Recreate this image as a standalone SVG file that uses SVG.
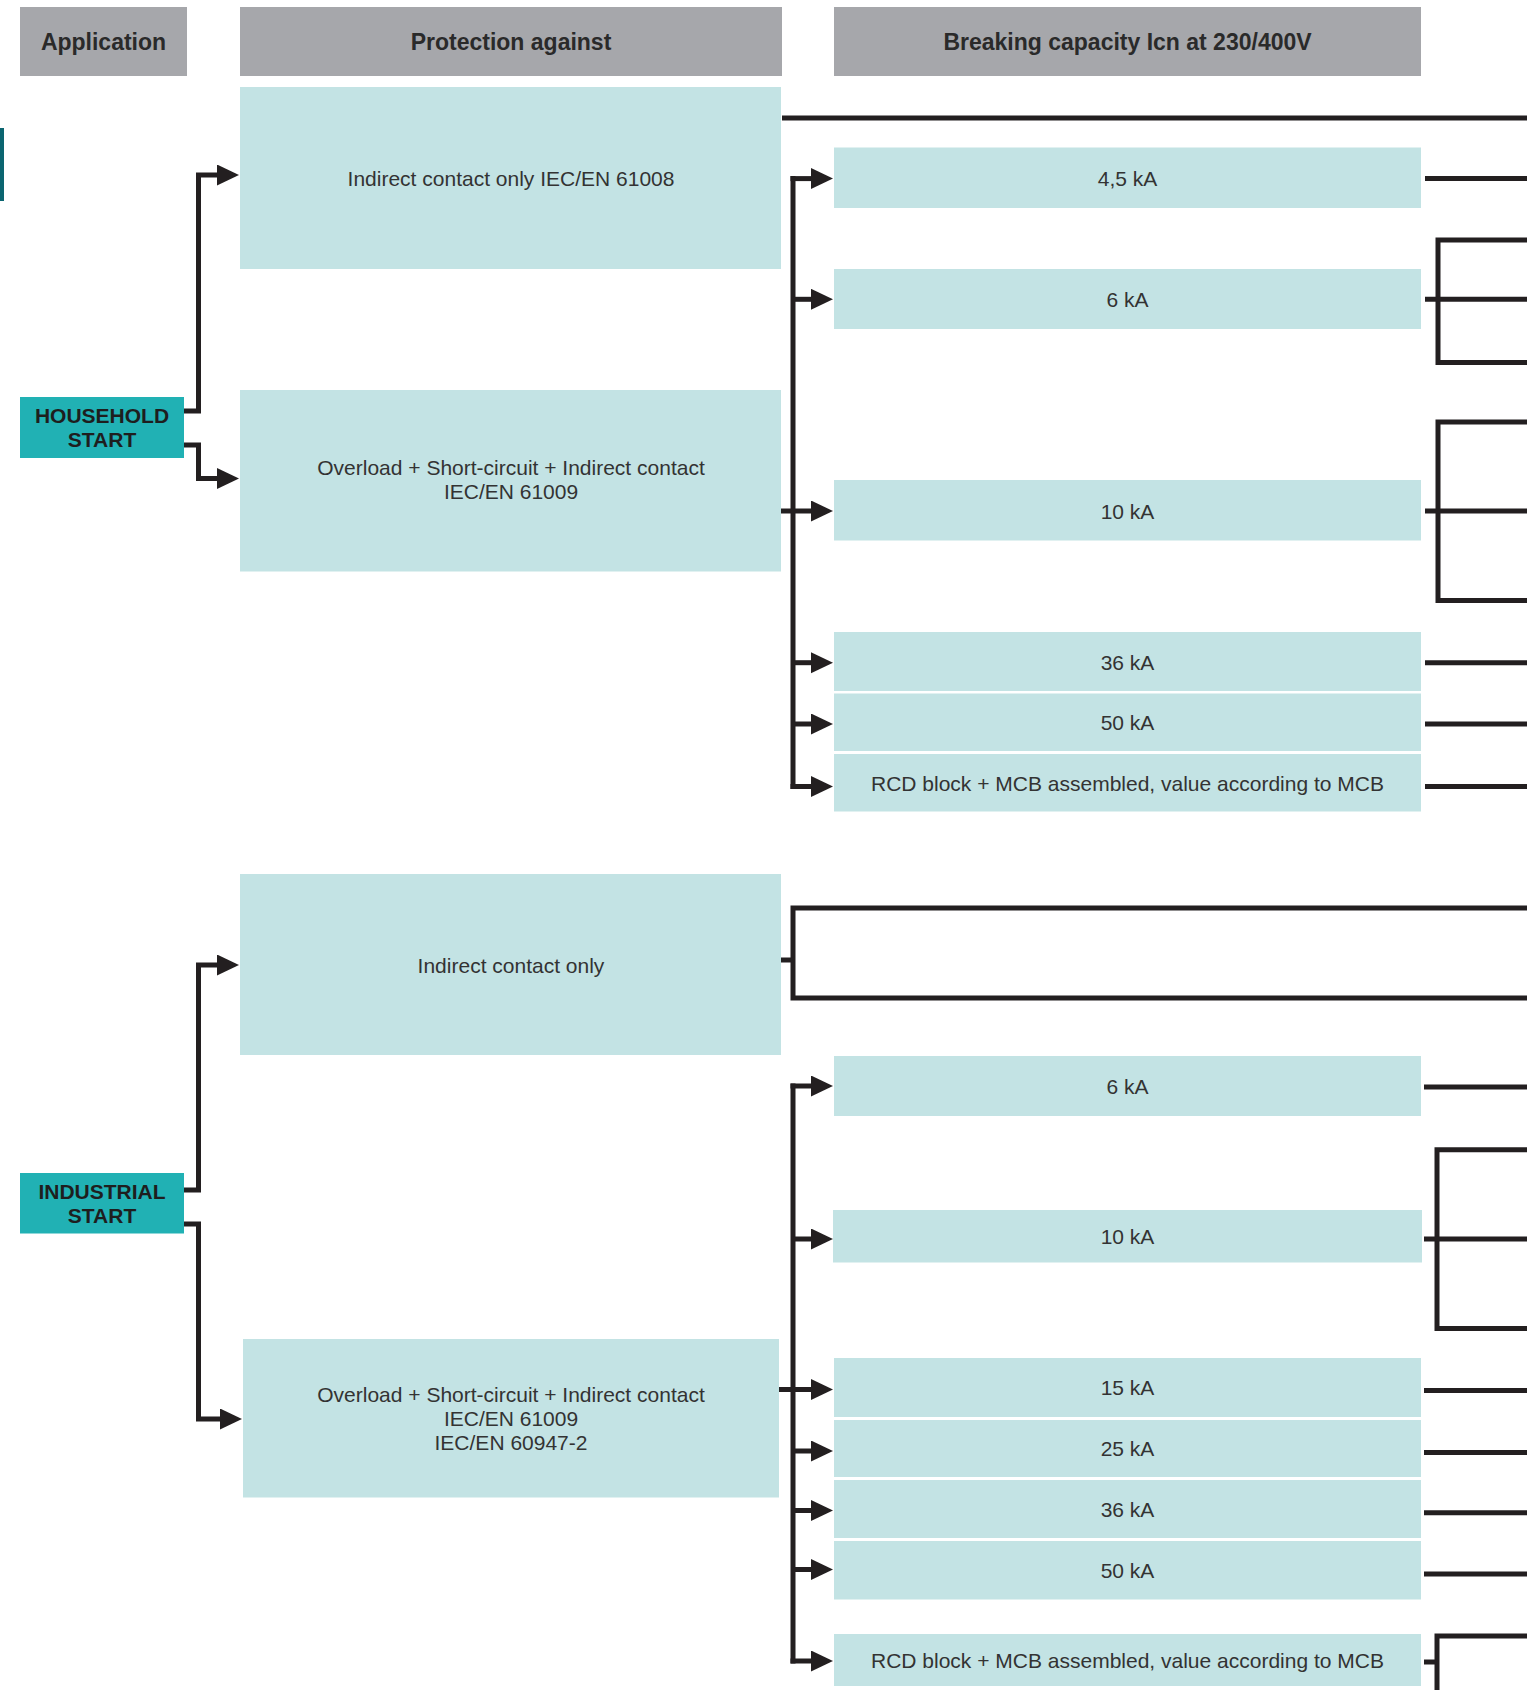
<svg xmlns="http://www.w3.org/2000/svg" width="1527" height="1690" viewBox="0 0 1527 1690">
<style>
.hdr{fill:#a6a7ab}
.hdrt{font-family:"Liberation Sans",Arial,sans-serif;font-weight:bold;font-size:23px;fill:#2a2a2a;text-anchor:middle}
.box{fill:#c3e3e4}
.t{font-family:"Liberation Sans",Arial,sans-serif;font-size:21px;fill:#333;text-anchor:middle}
.start{fill:#21b1b4}
.st{font-family:"Liberation Sans",Arial,sans-serif;font-weight:bold;font-size:21px;fill:#1e1e1e;text-anchor:middle}
.ln{fill:none;stroke:#231f20;stroke-width:5;stroke-linecap:butt;stroke-linejoin:miter}
.ar{marker-end:url(#ah)}
</style>
<defs>
<marker id="ah" markerUnits="userSpaceOnUse" markerWidth="23" markerHeight="22" refX="1" refY="10.5" orient="auto">
<path d="M0,0 L22,10.5 L0,21 Z" fill="#231f20"/>
</marker>
</defs>
<rect width="1527" height="1690" fill="#fff"/>
<rect x="0" y="128" width="4" height="73" fill="#0b6570"/>

<g id="hdr-application"><rect class="hdr" x="20" y="7" width="167" height="69"/><text class="hdrt" x="103.5" y="50">Application</text></g>
<g id="hdr-protection"><rect class="hdr" x="240" y="7" width="542" height="69"/><text class="hdrt" x="511" y="50">Protection against</text></g>
<g id="hdr-breaking"><rect class="hdr" x="834" y="7" width="587" height="69"/><text class="hdrt" x="1127.5" y="50">Breaking capacity Icn at 230/400V</text></g>

<g id="household-start"><rect class="start" x="20" y="397" width="164" height="61"/><text class="st" x="102" y="422.7">HOUSEHOLD</text><text class="st" x="102" y="446.7">START</text></g>
<g id="h-indirect"><rect class="box" x="240" y="87" width="541" height="182"/><text class="t" x="511" y="185.5">Indirect contact only IEC/EN 61008</text></g>
<g id="h-overload"><rect class="box" x="240" y="390" width="541" height="181.5"/><text class="t" x="511" y="475">Overload + Short-circuit + Indirect contact</text><text class="t" x="511" y="499">IEC/EN 61009</text></g>
<g id="h-4-5ka"><rect class="box" x="834" y="147.5" width="587" height="60.5"/><text class="t" x="1127.5" y="185.5">4,5 kA</text></g>
<g id="h-6ka"><rect class="box" x="834" y="269" width="587" height="60"/><text class="t" x="1127.5" y="306.7">6 kA</text></g>
<g id="h-10ka"><rect class="box" x="834" y="480" width="587" height="60.5"/><text class="t" x="1127.5" y="518.5">10 kA</text></g>
<g id="h-36ka"><rect class="box" x="834" y="632" width="587" height="59"/><text class="t" x="1127.5" y="669.5">36 kA</text></g>
<g id="h-50ka"><rect class="box" x="834" y="693.5" width="587" height="57.5"/><text class="t" x="1127.5" y="730">50 kA</text></g>
<g id="h-rcd"><rect class="box" x="834" y="754" width="587" height="57.5"/><text class="t" x="1127.5" y="790.5">RCD block + MCB assembled, value according to MCB</text></g>

<g id="industrial-start"><rect class="start" x="20" y="1173" width="164" height="60.5"/><text class="st" x="102" y="1199.3">INDUSTRIAL</text><text class="st" x="102" y="1223.3">START</text></g>
<g id="i-indirect"><rect class="box" x="240" y="874" width="541" height="181"/><text class="t" x="511" y="972.5">Indirect contact only</text></g>
<g id="i-overload"><rect class="box" x="243" y="1339" width="536" height="158.5"/><text class="t" x="511" y="1402">Overload + Short-circuit + Indirect contact</text><text class="t" x="511" y="1426">IEC/EN 61009</text><text class="t" x="511" y="1450">IEC/EN 60947-2</text></g>
<g id="i-6ka"><rect class="box" x="834" y="1056" width="587" height="60"/><text class="t" x="1127.5" y="1093.7">6 kA</text></g>
<g id="i-10ka"><rect class="box" x="833" y="1210" width="589" height="52.5"/><text class="t" x="1127.5" y="1244">10 kA</text></g>
<g id="i-15ka"><rect class="box" x="834" y="1358" width="587" height="59"/><text class="t" x="1127.5" y="1395.3">15 kA</text></g>
<g id="i-25ka"><rect class="box" x="834" y="1420" width="587" height="57"/><text class="t" x="1127.5" y="1456.3">25 kA</text></g>
<g id="i-36ka"><rect class="box" x="834" y="1480" width="587" height="58"/><text class="t" x="1127.5" y="1516.7">36 kA</text></g>
<g id="i-50ka"><rect class="box" x="834" y="1541" width="587" height="58.5"/><text class="t" x="1127.5" y="1577.8">50 kA</text></g>
<g id="i-rcd"><rect class="box" x="834" y="1634" width="587" height="52"/><text class="t" x="1127.5" y="1667.7">RCD block + MCB assembled, value according to MCB</text></g>

<g id="connectors">
<path class="ln ar" d="M184,411 H198.5 V175 H218"/>
<path class="ln ar" d="M184,445 H198.5 V478.5 H218"/>
<path class="ln" d="M795.5,178.6 H793 V786.5 H795.5"/>
<path class="ln ar" d="M790.5,178.6 H812"/>
<path class="ln ar" d="M793,299.3 H812"/>
<path class="ln ar" d="M781,511 H812"/>
<path class="ln ar" d="M793,662.7 H812"/>
<path class="ln ar" d="M793,724 H812"/>
<path class="ln ar" d="M790.5,786.5 H812"/>
<path class="ln" d="M782,118 H1527"/>
<path class="ln" d="M1425,178.6 H1527"/>
<path class="ln" d="M1527,240 H1438 V362.5 H1527"/>
<path class="ln" d="M1425,299.3 H1527"/>
<path class="ln" d="M1527,422 H1438 V600.6 H1527"/>
<path class="ln" d="M1425,511 H1527"/>
<path class="ln" d="M1425,662.7 H1527"/>
<path class="ln" d="M1425,724 H1527"/>
<path class="ln" d="M1425,786.5 H1527"/>

<path class="ln ar" d="M184,1190 H198.5 V965 H218"/>
<path class="ln ar" d="M184,1224 H198.5 V1419 H221"/>
<path class="ln" d="M1527,908 H793 V998 H1527"/>
<path class="ln" d="M781,960 H793"/>
<path class="ln" d="M795.5,1086 H793 V1661 H795.5"/>
<path class="ln ar" d="M790.5,1086 H812"/>
<path class="ln ar" d="M793,1239 H812"/>
<path class="ln ar" d="M779,1389.5 H812"/>
<path class="ln ar" d="M793,1451 H812"/>
<path class="ln ar" d="M793,1510.5 H812"/>
<path class="ln ar" d="M793,1569.5 H812"/>
<path class="ln ar" d="M790.5,1661 H812"/>
<path class="ln" d="M1424,1087 H1527"/>
<path class="ln" d="M1527,1149.7 H1437 V1328.4 H1527"/>
<path class="ln" d="M1424,1239 H1527"/>
<path class="ln" d="M1424,1390.4 H1527"/>
<path class="ln" d="M1424,1452.6 H1527"/>
<path class="ln" d="M1424,1512.7 H1527"/>
<path class="ln" d="M1424,1574 H1527"/>
<path class="ln" d="M1527,1636 H1437 V1695"/>
<path class="ln" d="M1424,1662 H1437"/>
</g>
</svg>
